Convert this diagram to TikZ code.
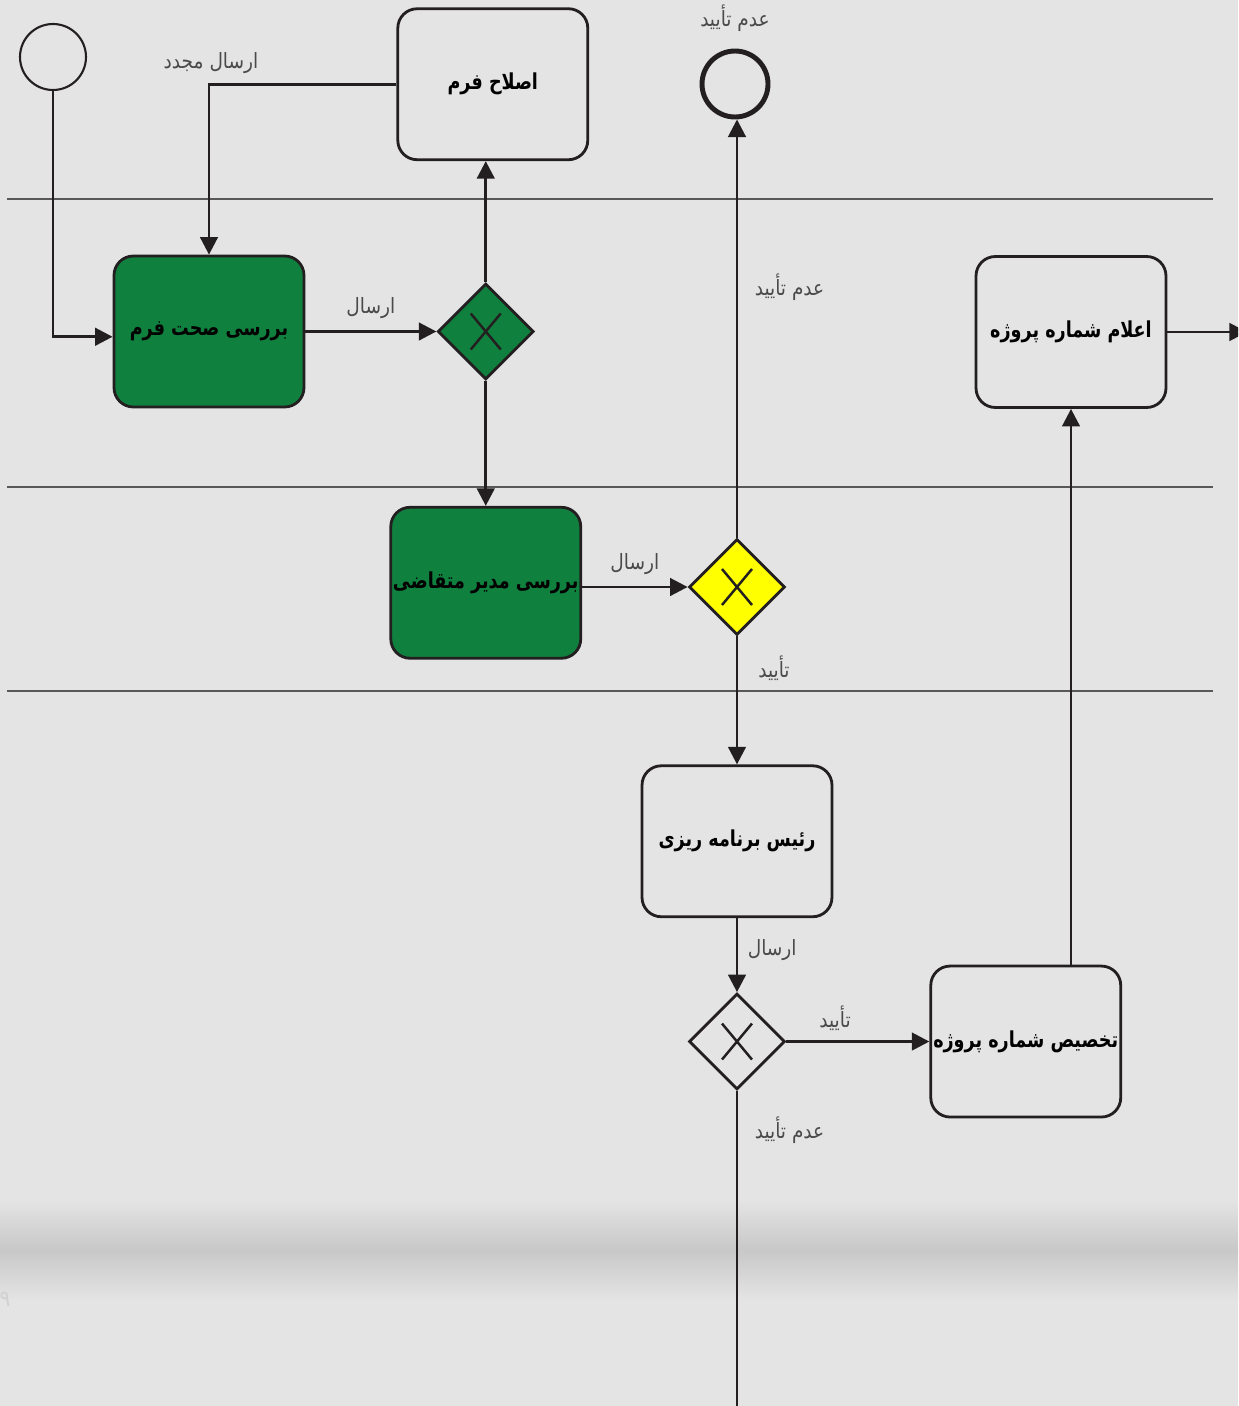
\documentclass[tikz,border=0pt]{standalone}
\usepackage{fontspec}
\usetikzlibrary{shapes.geometric,arrows.meta,positioning}
\newfontfamily\farsi[Script=Arabic,FakeStretch=0.88]{DejaVu Sans}
\newfontfamily\farsib[Script=Arabic,FakeStretch=0.8]{DejaVu Sans}
\TeXXeTstate=1
\newcommand{\fa}[1]{\farsi\beginR #1\endR}
\newcommand{\fb}[1]{\farsib\bfseries\beginR #1\endR}
\definecolor{bg}{HTML}{E4E4E4}
\definecolor{ink}{HTML}{231F20}
\definecolor{leaf}{HTML}{10803F}
\definecolor{lemon}{HTML}{FFFF00}
\definecolor{note}{HTML}{4A4A4A}
\definecolor{fold}{HTML}{C8C8C8}

\begin{document}
\begin{tikzpicture}[x=0.02cm,y=-0.02cm,
  task/.style={draw=ink,line width=1.6pt,rounded corners=11pt,fill=bg,minimum width=3.8cm,minimum height=3.02cm,inner sep=1pt,font=\fontsize{12.5}{14}\selectfont},
  gw/.style={diamond,draw=ink,line width=1.6pt,fill=bg,minimum width=1.92cm,minimum height=1.92cm,inner sep=0pt},
  ev/.style={circle,draw=ink,fill=bg,minimum size=1.32cm,inner sep=0pt,line width=1.2pt},
  lbl/.style={text=note,font=\fontsize{12}{14}\selectfont},
  lane/.style={draw=ink!75,line width=0.8pt},
  arr/.style={-{Triangle[length=10pt,width=10pt]},line width=1.6pt,draw=ink}]
\useasboundingbox (0,0) rectangle (1238,1406);
\clip (0,0) rectangle (1238,1406);
\fill[bg] (0,0) rectangle (1238,1406);
% page fold shadow
\shade[top color=bg,bottom color=fold] (0,1200) rectangle (1238,1250);
\shade[top color=fold,bottom color=bg] (0,1250) rectangle (1238,1300);
\node[text=black!18,font=\fontsize{13}{14}\selectfont] at (5,1299) {\fa{۹}};
% lanes
\foreach \y in {199,487,691} \draw[lane] (7,\y) -- (1213,\y);
% events, tasks, gateways
\node[ev] (start) at (53,57) {};
\node[task,fill=leaf] (rev) at (209,331.5) {\fb{بررسی صحت فرم}};
\node[gw,fill=leaf,right=2.62cm of rev] (g1) {};
\node[task,above=2.42cm of g1,xshift=4] (fix) {\fb{اصلاح فرم}};
\node[task,fill=leaf,below=2.5cm of g1] (mgr) {\fb{بررسی مدیر متقاضی}};
\node[gw,fill=lemon] (g2) at (737,587) {};
\node[ev,line width=2.8pt] (endc) at (735,84) {};
\node[task,below=2.56cm of g2] (head) {\fb{رئیس برنامه ریزی}};
\node[gw,below=1.48cm of head] (g3) {};
\node[task,right=2.86cm of g3] (alloc) {\fb{تخصیص شماره پروژه}};
\node[task] (ann) at (1071,332) {\fb{اعلام شماره پروژه}};
\foreach \g in {g1,g2,g3}
  {\draw[ink,line width=1.4pt] ([shift={(-15,-18)}]\g.center) -- ([shift={(15,18)}]\g.center);
   \draw[ink,line width=1.4pt] ([shift={(-15,18)}]\g.center) -- ([shift={(15,-18)}]\g.center);}
\coordinate (down) at (737,1420);
\coordinate (out) at (1247,332);
% flows
\draw[arr] (start.south) |- ([yshift=-3]rev.west);
\draw[arr] (fix.west) -| (rev.north);
\node[lbl] at (211,63) {\fa{ارسال مجدد}};
\draw[arr] (rev) -- node[lbl,above=3pt] {\fa{ارسال}} (g1);
\draw[arr] (g1) -- (g1 |- fix.south);
\draw[arr] (g1) -- (mgr);
\draw[arr] (mgr.east |- g2) -- node[lbl,above=3pt] {\fa{ارسال}} (g2.west);
\draw[arr] (g2) -- node[lbl,right=6pt,pos=0.6] {\fa{عدم تأیید}} (g2 |- endc.south);
\node[lbl,above=6pt of endc] {\fa{عدم تأیید}};
\draw[arr] (g2) -- node[lbl,right=8pt,pos=0.25] {\fa{تأیید}} (head);
\draw[arr] (head) -- node[lbl,right=2pt,pos=0.43] {\fa{ارسال}} (g3);
\draw[arr] (g3) -- node[lbl,above=2pt,pos=0.34] {\fa{تأیید}} (alloc);
\draw[line width=1.6pt,ink] (g3) -- node[lbl,right=6pt,pos=0.12] {\fa{عدم تأیید}} (down);
\draw[arr] (ann.south |- alloc.north) -- (ann.south);
\draw[arr] (ann.east) -- (out);
\end{tikzpicture}
\end{document}
